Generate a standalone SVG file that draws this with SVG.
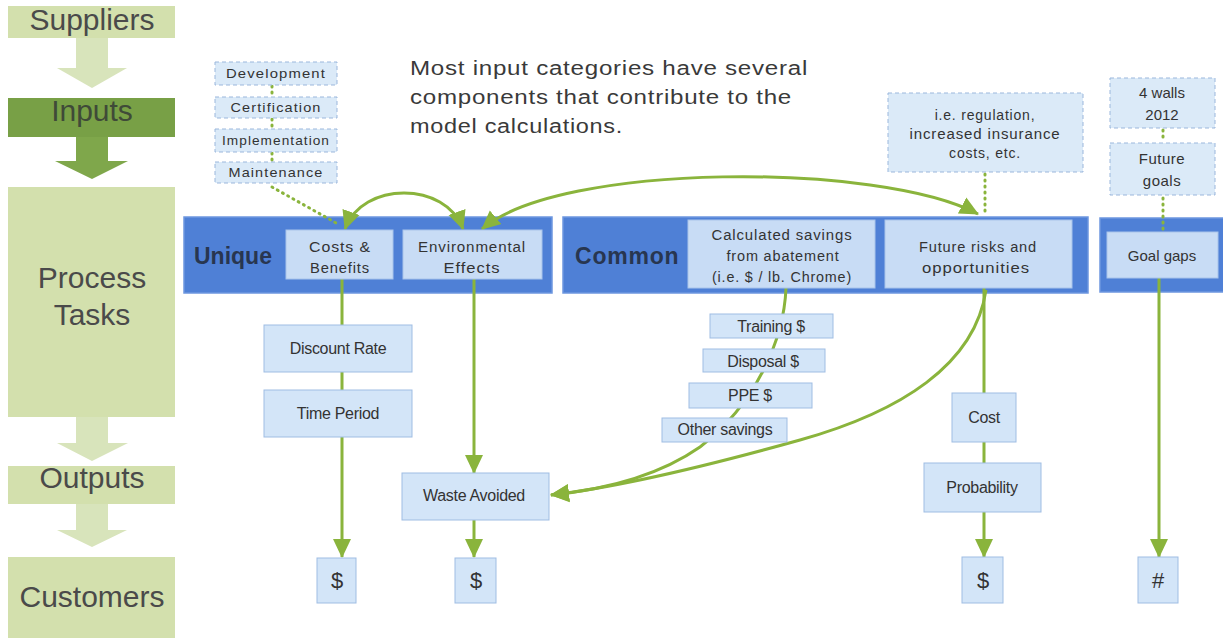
<svg xmlns="http://www.w3.org/2000/svg" width="1223" height="638" viewBox="0 0 1223 638">
  <style>
    .stage { fill: #d3e0ad; }
    .stage-dark { fill: #78a046; }
    .stage-arrow { fill: #d8e4bb; }
    .stage-arrow-dark { fill: #7fa74b; }
    .stage-txt { font-family: "Liberation Sans", Arial, sans-serif; font-size: 30px; fill: #4a4a4a; text-anchor: middle; }
    .band { fill: #4f80d6; stroke: #6d97df; stroke-width: 1.5; }
    .band-txt { font-family: "Liberation Sans", Arial, sans-serif; font-size: 23px; font-weight: bold; fill: #283650; }
    .cell { fill: #c8dcf5; stroke: #a9c4ea; stroke-width: 1; }
    .box { fill: #d3e5f8; stroke: #9fbde3; stroke-width: 1; }
    .dash { fill: #dbeaf8; stroke: #9bb7dc; stroke-width: 1; stroke-dasharray: 4 3; }
    .t { font-family: "Liberation Sans", Arial, sans-serif; fill: #333; text-anchor: middle; }
    .t13 { font-size: 13px; letter-spacing: 1px; }
    .t14 { font-size: 14px; letter-spacing: 0.8px; }
    .t16 { font-size: 16px; letter-spacing: -0.3px; }
    .t22 { font-size: 22px; }
    .note { font-family: "Liberation Sans", Arial, sans-serif; font-size: 20px; fill: #3a3a3a; letter-spacing: 0.6px; }
    .link { fill: none; stroke: #8ab43c; stroke-width: 3; }
    .dot { fill: none; stroke: #8ab43c; stroke-width: 3; stroke-dasharray: 1 5; stroke-linecap: round; }
  </style>
  <defs>
    <marker id="head" viewBox="0 0 20 20" refX="18" refY="10" markerWidth="20" markerHeight="20" markerUnits="userSpaceOnUse" orient="auto-start-reverse">
      <path d="M0,1 L19,10 L0,19 z" fill="#8ab43c"/>
    </marker>
  </defs>

  <rect width="1223" height="638" fill="#ffffff"/>

  <!-- SIPOC column -->
  <g id="stage-suppliers">
    <rect class="stage" x="8" y="6" width="167" height="32"/>
    <text class="stage-txt" x="92" y="30">Suppliers</text>
  </g>
  <polygon class="stage-arrow" points="76,38 108,38 108,68 127,68 92,88 57,68 76,68"/>
  <g id="stage-inputs">
    <rect class="stage-dark" x="8" y="98" width="167" height="39"/>
    <text class="stage-txt" x="92" y="121" style="fill:#3f4a38">Inputs</text>
  </g>
  <polygon class="stage-arrow-dark" points="76,137 108,137 108,161 128,161 92,179 55,161 76,161"/>
  <g id="stage-process">
    <rect class="stage" x="8" y="187" width="167" height="230"/>
    <text class="stage-txt" x="92" y="288">Process</text>
    <text class="stage-txt" x="92" y="325">Tasks</text>
  </g>
  <polygon class="stage-arrow" points="76,417 108,417 108,443 128,443 92,461 57,443 76,443"/>
  <g id="stage-outputs">
    <rect class="stage" x="8" y="466" width="167" height="38"/>
    <text class="stage-txt" x="92" y="488">Outputs</text>
  </g>
  <polygon class="stage-arrow" points="76,504 108,504 108,530 127,530 92,547 57,530 76,530"/>
  <g id="stage-customers">
    <rect class="stage" x="8" y="557" width="167" height="81"/>
    <text class="stage-txt" x="92" y="607">Customers</text>
  </g>

  <!-- explanatory note -->
  <g id="note">
    <text class="note" x="410" y="75" textLength="398" lengthAdjust="spacingAndGlyphs">Most input categories have several</text>
    <text class="note" x="410" y="104" textLength="382" lengthAdjust="spacingAndGlyphs">components that contribute to the</text>
    <text class="note" x="410" y="133" textLength="213" lengthAdjust="spacingAndGlyphs">model calculations.</text>
  </g>

  <!-- category bands -->
  <g id="band-unique">
    <rect class="band" x="184" y="217" width="368" height="76"/>
    <text class="band-txt" x="194" y="264">Unique</text>
  </g>
  <g id="band-common">
    <rect class="band" x="563" y="217" width="525" height="76"/>
    <text class="band-txt" x="575" y="264" letter-spacing="0.8">Common</text>
  </g>
  <g id="band-goals">
    <rect class="band" x="1100" y="218" width="130" height="74"/>
  </g>

  <!-- connectors -->
  <g id="connectors">
    <!-- dotted input links -->
    <path class="dot" d="M272,86 V96 M272,119 V128 M272,153 V161"/>
    <path class="dot" d="M272,187 L338,224"/>
    <path class="dot" d="M985,174 V216"/>
    <path class="dot" d="M1163,130 V142 M1163,198 V232"/>
    <!-- arcs between inputs -->
    <path class="link" d="M345,229 C362,181 446,181 463,229" marker-start="url(#head)" marker-end="url(#head)"/>
    <path class="link" d="M482,229 C560,162 880,162 978,214" marker-start="url(#head)" marker-end="url(#head)"/>
    <!-- costs & benefits chain -->
    <path class="link" d="M342,279 V557" marker-end="url(#head)"/>
    <!-- environmental effects chain -->
    <path class="link" d="M474,279 V473" marker-end="url(#head)"/>
    <path class="link" d="M474,520 V557" marker-end="url(#head)"/>
    <!-- savings into waste avoided -->
    <path class="link" d="M786,288 C784,340 755,405 700,447 C660,475 610,489 551,495" marker-end="url(#head)"/>
    <!-- future risks into waste avoided -->
    <path class="link" d="M986,290 C975,365 900,412 800,440 C700,468 620,487 551,495" marker-end="url(#head)"/>
    <!-- future risks chain -->
    <path class="link" d="M984,288 V557" marker-end="url(#head)"/>
    <!-- goal gaps -->
    <path class="link" d="M1159,278 V557" marker-end="url(#head)"/>
  </g>

  <!-- input components -->
  <g id="in-development">
    <rect class="dash" x="215" y="62" width="122" height="23"/>
    <text class="t t13" x="276" y="78" textLength="100" lengthAdjust="spacingAndGlyphs">Development</text>
  </g>
  <g id="in-certification">
    <rect class="dash" x="215" y="97" width="122" height="21"/>
    <text class="t t13" x="276" y="112" textLength="91" lengthAdjust="spacingAndGlyphs">Certification</text>
  </g>
  <g id="in-implementation">
    <rect class="dash" x="215" y="129" width="122" height="23"/>
    <text class="t t13" x="276" y="145" textLength="108" lengthAdjust="spacingAndGlyphs">Implementation</text>
  </g>
  <g id="in-maintenance">
    <rect class="dash" x="215" y="162" width="122" height="21"/>
    <text class="t t13" x="276" y="177" textLength="95" lengthAdjust="spacingAndGlyphs">Maintenance</text>
  </g>
  <g id="in-regulation">
    <rect class="dash" x="888" y="93" width="195" height="79"/>
    <text class="t t14" x="985" y="120">i.e. regulation,</text>
    <text class="t t14" x="985" y="139" textLength="151" lengthAdjust="spacingAndGlyphs">increased insurance</text>
    <text class="t t14" x="985" y="158">costs, etc.</text>
  </g>
  <g id="in-four-walls">
    <rect class="dash" x="1110" y="78" width="105" height="50"/>
    <text class="t t14" x="1162" y="98" style="font-size:15px;letter-spacing:0">4 walls</text>
    <text class="t t14" x="1162" y="120" style="font-size:15px;letter-spacing:0">2012</text>
  </g>
  <g id="in-future-goals">
    <rect class="dash" x="1110" y="143" width="105" height="52"/>
    <text class="t t14" x="1162" y="164" style="font-size:15px;letter-spacing:0.5px">Future</text>
    <text class="t t14" x="1162" y="186" style="font-size:15px;letter-spacing:0.5px">goals</text>
  </g>

  <!-- band cells -->
  <g id="costs-benefits">
    <rect class="cell" x="286" y="230" width="107" height="49"/>
    <text class="t t14" x="340" y="252" textLength="62" lengthAdjust="spacingAndGlyphs">Costs &amp;</text>
    <text class="t t14" x="340" y="273" textLength="60" lengthAdjust="spacingAndGlyphs">Benefits</text>
  </g>
  <g id="environmental-effects">
    <rect class="cell" x="403" y="230" width="139" height="49"/>
    <text class="t t14" x="472" y="252" textLength="108" lengthAdjust="spacingAndGlyphs">Environmental</text>
    <text class="t t14" x="472" y="273" textLength="57" lengthAdjust="spacingAndGlyphs">Effects</text>
  </g>
  <g id="calculated-savings">
    <rect class="cell" x="688" y="220" width="187" height="68"/>
    <text class="t t14" x="782" y="240" textLength="141" lengthAdjust="spacingAndGlyphs">Calculated savings</text>
    <text class="t t14" x="783" y="261" textLength="113" lengthAdjust="spacingAndGlyphs">from abatement</text>
    <text class="t t14" x="782" y="282" textLength="140" lengthAdjust="spacingAndGlyphs">(i.e. $ / lb. Chrome)</text>
  </g>
  <g id="future-risks">
    <rect class="cell" x="885" y="220" width="187" height="68"/>
    <text class="t t14" x="978" y="252" textLength="118" lengthAdjust="spacingAndGlyphs">Future risks and</text>
    <text class="t t14" x="976" y="273" textLength="108" lengthAdjust="spacingAndGlyphs">opportunities</text>
  </g>
  <g id="goal-gaps">
    <rect class="cell" x="1107" y="232" width="111" height="46"/>
    <text class="t" x="1162" y="261" style="font-size:15px">Goal gaps</text>
  </g>

  <!-- process factors -->
  <g id="discount-rate">
    <rect class="box" x="264" y="325" width="148" height="47"/>
    <text class="t t16" x="338" y="354">Discount Rate</text>
  </g>
  <g id="time-period">
    <rect class="box" x="264" y="390" width="148" height="47"/>
    <text class="t t16" x="338" y="419">Time Period</text>
  </g>
  <g id="training">
    <rect class="box" x="710" y="314" width="123" height="24"/>
    <text class="t t16" x="771" y="332">Training $</text>
  </g>
  <g id="disposal">
    <rect class="box" x="703" y="349" width="122" height="23"/>
    <text class="t t16" x="763" y="367">Disposal $</text>
  </g>
  <g id="ppe">
    <rect class="box" x="689" y="383" width="123" height="25"/>
    <text class="t t16" x="750" y="401">PPE $</text>
  </g>
  <g id="other-savings">
    <rect class="box" x="662" y="418" width="125" height="24"/>
    <text class="t t16" x="725" y="435">Other savings</text>
  </g>
  <g id="cost">
    <rect class="box" x="952" y="393" width="64" height="49"/>
    <text class="t t16" x="984" y="423">Cost</text>
  </g>
  <g id="probability">
    <rect class="box" x="924" y="463" width="117" height="49"/>
    <text class="t t16" x="982" y="493">Probability</text>
  </g>

  <!-- outputs -->
  <g id="waste-avoided">
    <rect class="box" x="402" y="473" width="147" height="47"/>
    <text class="t t16" x="474" y="501">Waste Avoided</text>
  </g>

  <!-- customer measures -->
  <g id="out-dollars-cb">
    <rect class="box" x="317" y="558" width="39" height="45"/>
    <text class="t t22" x="337" y="588">$</text>
  </g>
  <g id="out-dollars-env">
    <rect class="box" x="455" y="558" width="41" height="45"/>
    <text class="t t22" x="476" y="588">$</text>
  </g>
  <g id="out-dollars-risk">
    <rect class="box" x="962" y="557" width="41" height="46"/>
    <text class="t t22" x="983" y="588">$</text>
  </g>
  <g id="out-count">
    <rect class="box" x="1138" y="557" width="40" height="46"/>
    <text class="t t22" x="1158" y="588">#</text>
  </g>
</svg>
